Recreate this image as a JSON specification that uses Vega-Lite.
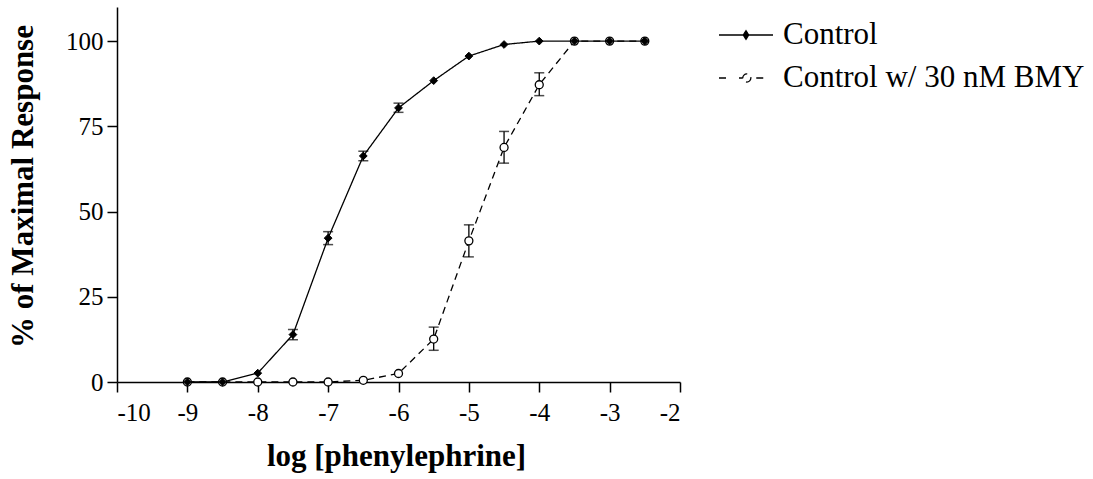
{
  "$schema": "https://vega.github.io/schema/vega-lite/v6.json",
  "autosize": {"type": "none"},
  "width": 563,
  "height": 375,
  "padding": {"left": 117, "top": 7, "right": 413, "bottom": 97},
  "background": "white",
  "config": {
    "view": {"stroke": null},
    "axis": {
      "grid": false,
      "domainColor": "black",
      "domainWidth": 1.5,
      "tickColor": "black",
      "tickWidth": 1.5,
      "tickSize": 10,
      "labelFont": "Liberation Serif",
      "labelFontSize": 25,
      "labelColor": "black",
      "labelExpr": "datum.value + ''",
      "titleFont": "Liberation Serif",
      "titleFontSize": 31,
      "titleFontWeight": "bold",
      "titleColor": "black"
    }
  },
  "data": {
    "values": [
      {"series": "Control", "logc": -9, "resp": 0},
      {"series": "Control", "logc": -8.5, "resp": 0},
      {"series": "Control", "logc": -8, "resp": 2.6},
      {"series": "Control", "logc": -7.5, "resp": 13.9, "lo": 12.4, "hi": 15.4},
      {"series": "Control", "logc": -7, "resp": 42.2, "lo": 40.3, "hi": 44.1},
      {"series": "Control", "logc": -6.5, "resp": 66.3, "lo": 64.9, "hi": 67.7},
      {"series": "Control", "logc": -6, "resp": 80.4, "lo": 79.1, "hi": 81.8},
      {"series": "Control", "logc": -5.5, "resp": 88.4},
      {"series": "Control", "logc": -5, "resp": 95.6},
      {"series": "Control", "logc": -4.5, "resp": 99},
      {"series": "Control", "logc": -4, "resp": 100},
      {"series": "Control", "logc": -3.5, "resp": 100},
      {"series": "Control", "logc": -3, "resp": 100},
      {"series": "Control", "logc": -2.5, "resp": 100},
      {"series": "Control w/ 30 nM BMY", "logc": -9, "resp": 0},
      {"series": "Control w/ 30 nM BMY", "logc": -8.5, "resp": 0},
      {"series": "Control w/ 30 nM BMY", "logc": -8, "resp": 0},
      {"series": "Control w/ 30 nM BMY", "logc": -7.5, "resp": 0},
      {"series": "Control w/ 30 nM BMY", "logc": -7, "resp": 0},
      {"series": "Control w/ 30 nM BMY", "logc": -6.5, "resp": 0.5},
      {"series": "Control w/ 30 nM BMY", "logc": -6, "resp": 2.5},
      {"series": "Control w/ 30 nM BMY", "logc": -5.5, "resp": 12.6, "lo": 9.3, "hi": 16.1},
      {"series": "Control w/ 30 nM BMY", "logc": -5, "resp": 41.4, "lo": 36.7, "hi": 46.1},
      {"series": "Control w/ 30 nM BMY", "logc": -4.5, "resp": 68.8, "lo": 64.2, "hi": 73.5},
      {"series": "Control w/ 30 nM BMY", "logc": -4, "resp": 87.2, "lo": 84, "hi": 90.7},
      {"series": "Control w/ 30 nM BMY", "logc": -3.5, "resp": 100},
      {"series": "Control w/ 30 nM BMY", "logc": -3, "resp": 100},
      {"series": "Control w/ 30 nM BMY", "logc": -2.5, "resp": 100}
    ]
  },
  "encoding": {
    "x": {
      "field": "logc",
      "type": "quantitative",
      "scale": {"domain": [-10, -2], "nice": false, "zero": false},
      "axis": {
        "values": [-10, -9, -8, -7, -6, -5, -4, -3, -2],
        "labelPadding": 8,
        "title": "log [phenylephrine]",
        "titleBaseline": "alphabetic",
        "titleX": 279,
        "titleY": 83
      }
    },
    "y": {
      "field": "resp",
      "type": "quantitative",
      "scale": {"domain": [0, 110], "nice": false},
      "axis": {
        "values": [0, 25, 50, 75, 100],
        "labelPadding": 4,
        "title": "% of Maximal Response",
        "titleAngle": -90,
        "titleBaseline": "alphabetic",
        "titleAlign": "center",
        "titleX": -85,
        "titleY": 179
      }
    }
  },
  "layer": [
    {
      "mark": {"type": "line", "strokeWidth": 1.3},
      "encoding": {
        "strokeDash": {
          "field": "series",
          "type": "nominal",
          "scale": {
            "domain": ["Control", "Control w/ 30 nM BMY"],
            "range": [[1, 0], [7, 5]]
          },
          "legend": null
        },
        "color": {
          "field": "series",
          "type": "nominal",
          "scale": {
            "domain": ["Control", "Control w/ 30 nM BMY"],
            "range": ["black", "black"]
          },
          "legend": {
            "title": null,
            "orient": "none",
            "legendX": 601,
            "legendY": 0,
            "padding": 0,
            "symbolSize": 2916,
            "symbolStrokeWidth": 1.3,
            "labelFont": "Liberation Serif",
            "labelFontSize": 31,
            "labelColor": "black",
            "labelLimit": 0,
            "labelOffset": 9,
            "rowPadding": -12,
            "encode": {
              "symbols": {
                "update": {
                  "shape": {"signal": "datum.value === 'Control' ? 'M-1,0H1M0,-0.16L0.1,0L0,0.16L-0.1,0Z' : 'M-1,0H-0.69M-0.26,0H-0.12M0.38,0H0.79M0.18,0C0.18,0.0828 0.1128,0.15 0.03,0.15C-0.0528,0.15 -0.12,0.0828 -0.12,0C-0.12,-0.0828 -0.0528,-0.15 0.03,-0.15C0.1128,-0.15 0.18,-0.0828 0.18,0Z'"},
                  "fill": {"signal": "datum.value === 'Control' ? 'black' : 'white'"},
                  "stroke": {"value": "black"}
                }
              }
            }
          }
        }
      }
    },
    {
      "transform": [{"filter": "isValid(datum.lo)"}],
      "mark": {"type": "rule", "color": "black", "strokeWidth": 1.3},
      "encoding": {"y": {"field": "lo", "type": "quantitative"}, "y2": {"field": "hi"}}
    },
    {
      "transform": [{"filter": "isValid(datum.lo)"}],
      "mark": {"type": "tick", "orient": "horizontal", "color": "black", "size": 10, "thickness": 1.5},
      "encoding": {"y": {"field": "lo", "type": "quantitative"}}
    },
    {
      "transform": [{"filter": "isValid(datum.hi)"}],
      "mark": {"type": "tick", "orient": "horizontal", "color": "black", "size": 10, "thickness": 1.5},
      "encoding": {"y": {"field": "hi", "type": "quantitative"}}
    },
    {
      "transform": [{"filter": "datum.series !== 'Control'"}],
      "mark": {"type": "point", "shape": "circle", "filled": true, "fill": "white", "stroke": "black", "strokeWidth": 1.3, "size": 64, "opacity": 1}
    },
    {
      "transform": [{"filter": "datum.series === 'Control'"}],
      "mark": {"type": "point", "shape": "diamond", "filled": true, "fill": "black", "stroke": "black", "strokeWidth": 1, "size": 60, "opacity": 1}
    }
  ]
}
